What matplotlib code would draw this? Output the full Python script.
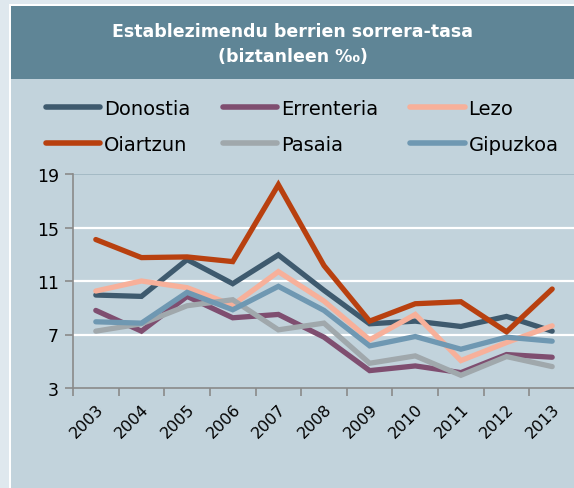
import matplotlib.pyplot as plt
from matplotlib.patches import Rectangle
from matplotlib.lines import Line2D

years = ["2003", "2004", "2005", "2006", "2007", "2008", "2009", "2010", "2011", "2012", "2013"]

donostia   = [9.95, 9.85, 12.6, 10.8, 12.95, 10.3, 7.8, 8.0, 7.6, 8.35, 7.25]
errenteria = [8.8, 7.25, 9.85, 8.25, 8.5, 6.8, 4.3, 4.65, 4.15, 5.5, 5.3]
lezo       = [10.25, 11.0, 10.5, 9.2, 11.7, 9.5, 6.6, 8.5, 5.05, 6.4, 7.65]
oiartzun   = [14.1, 12.75, 12.8, 12.45, 18.2, 12.15, 8.0, 9.3, 9.45, 7.2, 10.4]
pasaia     = [7.25, 7.8, 9.15, 9.6, 7.35, 7.85, 4.85, 5.4, 3.95, 5.35, 4.6]
gipuzkoa   = [7.95, 7.85, 10.15, 8.85, 10.6, 8.8, 6.15, 6.85, 5.9, 6.8, 6.5]

series = [
    ("Donostia", donostia, "#3e5a6e"),
    ("Errenteria", errenteria, "#7f4e70"),
    ("Lezo", lezo, "#f7b09a"),
    ("Oiartzun", oiartzun, "#b8400f"),
    ("Pasaia", pasaia, "#a0a8ac"),
    ("Gipuzkoa", gipuzkoa, "#6f98b2"),
]

plt.rcParams["font.family"] = ["DejaVu Sans"]

W, H = 574, 489
fig = plt.figure(figsize=(W / 100, H / 100), dpi=100)
fig.patch.set_facecolor("#dfe8ee")

# panel + title band (pixel coords -> figure fractions)
def px_rect(x0, y0, x1, y1, color):
    fig.patches.append(Rectangle((x0 / W, 1 - y1 / H), (x1 - x0) / W, (y1 - y0) / H,
                                 transform=fig.transFigure, facecolor=color,
                                 edgecolor="none", zorder=0))

px_rect(9, 5, W, H, "white")
px_rect(11, 7, W, H, "#c2d3dc")
px_rect(11, 7, W, 80, "#5f8596")

fig.text((11 + W) / 2 / W, 1 - 32 / H, "Establezimendu berrien sorrera-tasa",
         ha="center", va="center", color="white", fontsize=12.5, fontweight="bold")
fig.text((11 + W) / 2 / W, 1 - 57 / H, "(biztanleen ‰)",
         ha="center", va="center", color="white", fontsize=12.5, fontweight="bold")

ax = fig.add_axes([73 / W, 1 - 389 / H, (575 - 73) / W, (389 - 175) / H])
ax.set_zorder(2)
ax.set_facecolor("none")
x = list(range(len(years)))
for name, vals, col in series:
    ax.plot(x, vals, color=col, lw=3.8, solid_capstyle="round", solid_joinstyle="miter",
            label=name, zorder=3, clip_on=False)

ax.set_xlim(-0.5, len(years) - 0.5)
ax.set_ylim(3, 19)
ax.set_yticks([3, 7, 11, 15, 19])
for v in [7, 11, 15]:
    ax.axhline(v, color="white", lw=1.6, zorder=1)
ax.axhline(19, color="#9fb5c1", lw=1.2, zorder=1)

ax.set_xticks([i - 0.5 for i in range(len(years) + 1)], minor=False)
ax.set_xticklabels([])
ax.set_xticks(x, minor=True)
ax.set_xticklabels(years, minor=True, rotation=45, ha="right", va="top",
                   rotation_mode="anchor", fontsize=11.5)
ax.tick_params(axis="x", which="minor", length=0, pad=9)
ax.tick_params(axis="x", which="major", length=6, color="#8a8a8a", width=1.2)
ax.tick_params(axis="y", length=6, color="#8a8a8a", width=1.2, labelsize=12.5, pad=4)

for s in ["top", "right"]:
    ax.spines[s].set_visible(False)
for s in ["left", "bottom"]:
    ax.spines[s].set_color("#8a8a8a")
    ax.spines[s].set_linewidth(1.2)

# legend, two rows of three
handles = [Line2D([0], [0], color=c, lw=4, solid_capstyle="round") for _, _, c in series]
labels = [n for n, _, _ in series]
leg = fig.legend([handles[i] for i in [0, 3, 1, 4, 2, 5]],
                 [labels[i] for i in [0, 3, 1, 4, 2, 5]],
                 ncol=3, loc="upper left", bbox_to_anchor=(46 / W, 1 - 100 / H),
                 frameon=False, fontsize=14, handlelength=2.8, handletextpad=0.2,
                 columnspacing=1.65, labelspacing=0.85, borderpad=0, borderaxespad=0)

fig.savefig("out.png", dpi=100, facecolor=fig.get_facecolor())
